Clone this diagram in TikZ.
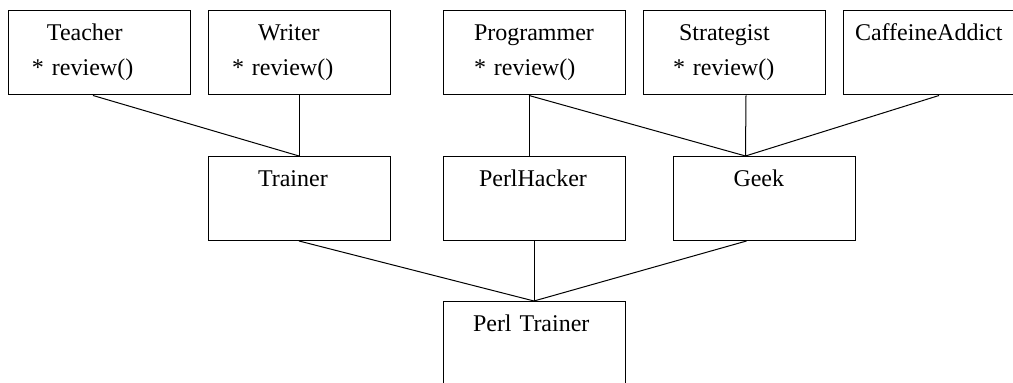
\documentclass[tikz,border=0pt]{standalone}
\usepackage{fontspec}
\setmainfont{Liberation Serif}
\usetikzlibrary{positioning}
\tikzstyle{classbox} = [rectangle, draw, line width=0.5pt, inner sep=0pt,
    text width=91pt, text height=15pt, text depth=27pt, align=left,
    font=\fontsize{12}{17.5}\selectfont]
\tikzstyle{line} = [draw, line width=0.5pt]

\begin{document}
\begin{tikzpicture}[node distance = 100pt]
    \useasboundingbox (0,0) rectangle (506.5pt,-191.5pt);
    % Place nodes
    \node [classbox] (teacher) at (49.5pt,-26.5pt) {\hspace*{19.5pt}Teacher\\\hspace*{12pt}* review()};
    \node [classbox, right of=teacher] (writer) {\hspace*{25pt}Writer\\\hspace*{12pt}* review()};
    \node [classbox, right of=writer, node distance=117.5pt] (programmer) {\hspace*{15.5pt}Programmer\\\hspace*{15.5pt}* review()};
    \node [classbox, right of=programmer] (strategist) {\hspace*{18pt}Strategist\\\hspace*{15pt}* review()};
    \node [classbox, right of=strategist] (caffeine) {\hspace*{6pt}CaffeineAddict};
    \node [classbox, below of=writer, node distance=72.75pt] (trainer) {\hspace*{25pt}Trainer};
    \node [classbox, below of=programmer, node distance=72.75pt] (perlhacker) {\hspace*{18pt}PerlHacker};
    \node [classbox, right of=perlhacker, node distance=115.25pt] (geek) {\hspace*{30pt}Geek};
    \node [classbox, below of=perlhacker, node distance=72.5pt] (perltrainer) {\hspace*{15pt}Perl Trainer};

    \path [line] ([xshift=-3pt]teacher.south) -- (trainer.north);
    \path [line] (writer.south) -- (trainer.north);
    \path [line] ([xshift=-2.5pt]programmer.south) -- ([xshift=-2.5pt]perlhacker.north);
    \path [line] ([xshift=-2.5pt]programmer.south) -- ([xshift=-9.5pt]geek.north);
    \path [line] ([xshift=6pt]strategist.south) -- ([xshift=-9.5pt]geek.north);
    \path [line] ([xshift=2.5pt]caffeine.south) -- ([xshift=-9.5pt]geek.north);
    \path [line] (trainer.south) -- (perltrainer.north);
    \path [line] (perlhacker.south) -- (perltrainer.north);
    \path [line] ([xshift=-9pt]geek.south) -- (perltrainer.north);
\end{tikzpicture}
\end{document}
